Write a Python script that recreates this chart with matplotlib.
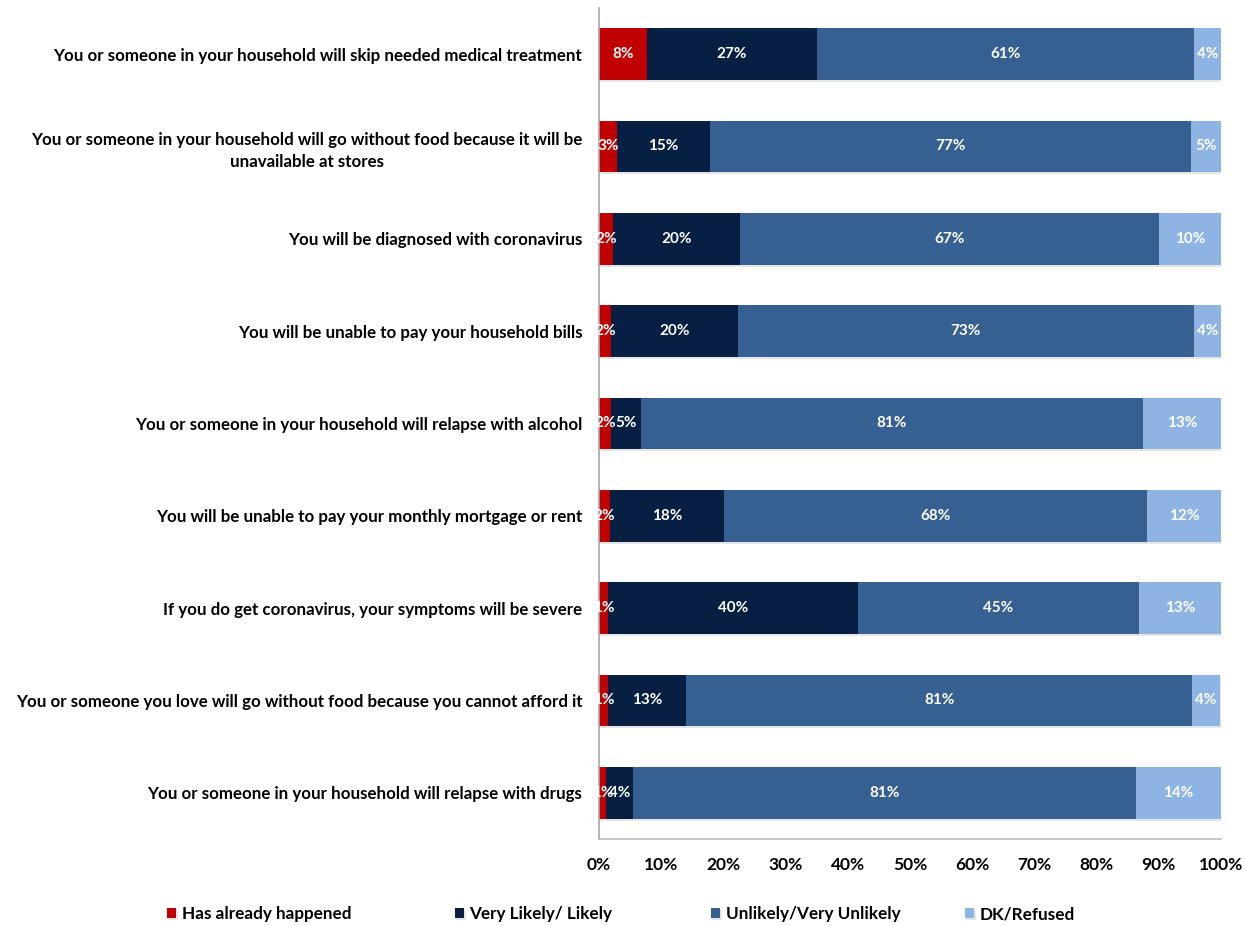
import matplotlib
matplotlib.use("Agg")
import matplotlib.pyplot as plt
import matplotlib.patheffects as pe
import numpy as np

plt.rcParams['font.family'] = ['Lato', 'DejaVu Sans']

categories = [
    "You or someone in your household will skip needed medical treatment",
    "You or someone in your household will go without food because it will be\nunavailable at stores",
    "You will be diagnosed with coronavirus",
    "You will be unable to pay your household bills",
    "You or someone in your household will relapse with alcohol",
    "You will be unable to pay your monthly mortgage or rent",
    "If you do get coronavirus, your symptoms will be severe",
    "You or someone you love will go without food because you cannot afford it",
    "You or someone in your household will relapse with drugs",
]

series_names = ["Has already happened", "Very Likely/ Likely",
                "Unlikely/Very Unlikely", "DK/Refused"]
already = [7.7, 2.9, 2.3, 1.9, 1.9, 1.8, 1.4, 1.4, 1.2]
likely = [27.3, 14.9, 20.4, 20.4, 4.9, 18.3, 40.2, 12.6, 4.3]
unlikely = [60.7, 77.4, 67.3, 73.4, 80.6, 68.0, 45.2, 81.4, 80.8]
dk = [4.3, 4.8, 10.0, 4.3, 12.6, 11.9, 13.2, 4.4, 13.7]
colors = ["#C00000", "#061F42", "#376092", "#8EB4E3"]

fig = plt.figure(figsize=(12.46, 9.26), dpi=100)
ax = fig.add_axes([0.4807, 0.094, 0.4992, 0.8974])

y = np.arange(len(categories))
left = np.zeros(len(categories))
shadow = [pe.SimplePatchShadow(offset=(1, -1.5), shadow_rgbFace='black', alpha=0.1), pe.Normal()]
handles = []
for name, vals, c in zip(series_names, [already, likely, unlikely, dk], colors):
    vals = np.array(vals)
    bars = ax.barh(y, vals, left=left, height=0.56, color=c, label=name)
    for b in bars:
        b.set_path_effects(shadow)
    for yi, l, v in zip(y, left, vals):
        ax.text(l + v / 2, yi, "%d%%" % round(v), ha='center', va='center',
                color='white', fontsize=11, fontweight='bold')
    left = left + vals
    handles.append(bars)

ax.set_xlim(0, 100)
ax.set_ylim(len(categories) - 0.5, -0.5)
ax.set_yticks(y)
ax.set_yticklabels(categories, fontsize=12.2, fontweight='bold',
                   multialignment='center', linespacing=1.45)
ax.set_xticks(np.arange(0, 101, 10))
ax.set_xticklabels(["%d%%" % t for t in range(0, 101, 10)], fontsize=12.5, fontweight='bold')
ax.tick_params(axis='y', length=0, pad=12)
ax.tick_params(axis='x', length=0, pad=13)
for s in ['top', 'right']:
    ax.spines[s].set_visible(False)
ax.spines['left'].set_color('#A6A6A6')
ax.spines['bottom'].set_color('#BFBFBF')
ax.spines['left'].set_linewidth(1.2)
ax.spines['bottom'].set_linewidth(1.2)

# one legend entry per position, as in the original layout
legend_x = [167, 455, 711, 965]
for h, name, lx in zip(handles, series_names, legend_x):
    fig.legend([h], [name], loc='center left', bbox_to_anchor=(lx / 1246, 1 - 914 / 926),
               frameon=False, prop={'weight': 'bold', 'size': 12.3}, borderpad=0,
               borderaxespad=0, handlelength=0.55, handleheight=0.6, handletextpad=0.3)

fig.savefig("out.png", dpi=100)
